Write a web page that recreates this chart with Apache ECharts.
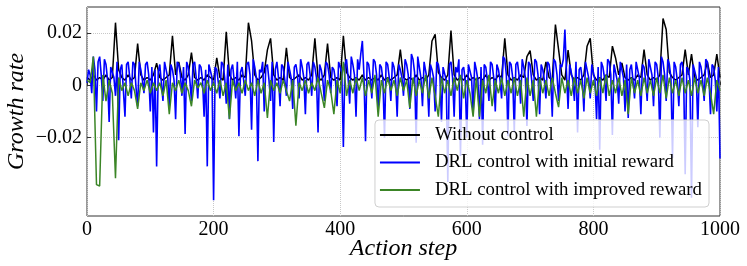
<!DOCTYPE html>
<html>
<head>
<meta charset="utf-8">
<script src="https://cdn.jsdelivr.net/npm/echarts@6/dist/echarts.min.js"></script>
<style>html,body{margin:0;padding:0;background:#fff}#c{width:747px;height:266px}</style>
</head>
<body>
<div id="c"></div>
<script>
// black & green sampled every 5 action steps, blue every 2.5 steps (0..1000)
const STEP = 5;
const STEP_BLUE = 2.5;
const seriesNames = ['Without control', 'DRL control with initial reward', 'DRL control with improved reward'];
const yTicks = [-0.02, 0, 0.02];
const xTicks = [0, 200, 400, 600, 800, 1000];

const withoutControl = [
0.003,0.002,0.004,0.002,0.003,0.002,0.004,0.002,0.003,0.024,
0.006,0.003,0.002,0.004,0.002,0.003,0.016,0.004,0.002,0.003,
0.002,0.004,0.0085,0.003,0.002,0.003,0.004,0.019,0.004,0.009,
0.003,0.002,0.004,0.0125,0.003,0.002,0.003,0.002,0.004,0.003,
0.002,0.0105,0.003,0.002,0.0205,0.004,0.002,0.003,0.002,0.004,
0.003,0.024,0.017,0.004,0.002,0.003,0.005,0.0136,0.018,0.004,
0.002,0.003,0.002,0.0144,0.003,0.002,0.003,0.004,0.002,0.003,
0.002,0.004,0.018,0.003,0.002,0.004,0.016,0.003,0.002,0.003,
0.002,0.019,0.005,0.003,0.002,0.003,0.002,0.004,0.002,0.003,
0.002,0.003,0.002,0.004,0.002,0.003,0.002,0.003,0.004,0.0137,
0.003,0.002,0.003,0.002,0.004,0.002,0.003,0.002,0.004,0.017,
0.0195,0.005,0.003,0.002,0.004,0.021,0.004,0.002,0.003,0.002,
0.004,0.002,0.003,0.002,0.003,0.002,0.004,0.002,0.003,0.002,
0.004,0.003,0.018,0.004,0.002,0.003,0.002,0.004,0.003,0.011,
0.0133,0.004,0.002,0.003,0.002,0.009,0.003,0.002,0.0233,0.0137,
0.004,0.002,0.0135,0.004,0.002,0.003,0.002,0.004,0.015,0.018,
0.004,0.002,0.003,0.002,0.004,0.003,0.015,0.0105,0.004,0.0086,
0.003,0.002,0.003,0.002,0.004,0.003,0.0137,0.004,0.002,0.003,
0.002,0.004,0.0256,0.0214,0.005,0.003,0.002,0.003,0.004,0.0137,
0.004,0.012,0.003,0.002,0.003,0.004,0.009,0.003,0.004,0.012,
0.003
];

const initialReward = [
0.001,0.006,0.004,-0.003,0.011,0.006,-0.010,0.009,0.011,0.004,
-0.006,0.010,0.008,0.002,-0.014,0.007,0.007,0.003,-0.004,0.009,
-0.021,0.006,0.008,-0.002,-0.012,0.008,0.009,0.003,-0.005,0.009,
0.008,-0.001,-0.008,0.009,0.006,0.002,-0.003,0.008,0.009,0.004,
-0.010,0.007,-0.018,0.006,-0.031,0.005,0.008,0.001,-0.006,0.009,
0.009,0.003,-0.008,0.008,0.006,0.002,-0.013,0.009,0.008,0.004,
-0.004,0.007,-0.0186,0.009,0.007,0.002,-0.006,0.008,0.009,0.003,
-0.005,0.008,0.007,0.002,-0.012,0.006,-0.031,0.008,0.008,0.003,
-0.044,0.007,0.006,0.001,-0.005,0.009,0.008,0.003,-0.007,0.008,
-0.013,0.006,0.008,0.002,-0.005,0.009,-0.0195,0.005,0.007,0.002,
-0.004,0.008,0.009,0.004,-0.017,0.010,0.007,0.003,-0.029,0.006,
0.005,0.009,-0.010,0.007,0.008,0.002,-0.006,0.009,-0.0217,0.006,
0.009,0.003,-0.008,0.008,0.007,0.002,-0.004,0.009,0.006,0.003,
-0.009,0.007,0.008,0.004,-0.005,0.010,0.007,0.003,-0.011,0.008,
0.009,0.004,-0.004,0.009,0.007,0.003,-0.018,0.008,0.006,0.002,
-0.006,0.009,0.008,0.004,-0.003,0.007,0.006,0.002,-0.008,0.009,
0.009,0.005,-0.0236,0.008,0.010,0.003,-0.007,0.011,0.008,0.004,
-0.012,0.010,0.006,0.012,0.017,0.004,-0.0214,0.009,0.008,0.003,
-0.005,0.010,0.009,0.004,-0.010,0.008,0.007,0.002,-0.020,0.009,
0.008,0.003,-0.006,0.009,0.007,0.002,-0.012,0.008,0.006,0.003,
-0.004,0.010,0.008,0.004,-0.009,0.012,0.010,0.005,-0.022,0.011,
0.007,0.003,-0.008,0.009,0.009,0.002,-0.012,0.008,0.006,0.003,
-0.010,0.009,0.008,0.004,-0.014,0.007,0.007,0.002,-0.037,0.008,
0.009,0.003,-0.012,0.007,0.005,0.010,-0.027,0.006,0.007,0.002,
-0.020,0.008,0.008,0.003,-0.011,0.009,0.006,0.002,-0.013,0.007,
-0.0227,0.008,0.007,0.002,-0.006,0.009,0.008,0.003,-0.010,0.008,
0.006,0.002,-0.005,0.011,0.010,0.004,-0.0195,0.009,0.008,0.003,
-0.018,0.008,0.009,0.004,-0.007,0.010,0.007,0.003,-0.0155,0.009,
0.008,0.002,-0.006,0.010,0.009,0.004,-0.011,0.008,0.006,0.002,
-0.005,0.009,0.008,0.003,-0.012,0.010,0.009,0.004,-0.006,0.008,
0.007,0.010,0.0214,0.005,-0.009,0.008,0.008,0.002,-0.006,0.009,
-0.018,0.006,0.007,0.002,-0.010,0.009,0.009,0.003,-0.005,0.008,
0.008,0.002,-0.013,0.007,-0.0246,0.009,0.007,0.003,-0.006,0.010,
0.009,0.004,-0.019,0.008,0.008,0.002,-0.007,0.009,0.006,0.003,
-0.010,0.008,-0.0125,0.006,0.008,0.002,-0.005,0.009,0.009,0.003,
-0.011,0.008,0.007,0.002,-0.006,0.010,0.010,0.004,-0.008,0.009,
0.008,0.003,-0.020,0.011,0.009,0.004,-0.006,0.010,0.008,0.003,
-0.0278,0.009,0.007,0.002,-0.008,0.008,0.009,0.004,-0.034,0.007,
0.006,0.002,-0.043,0.008,0.008,0.003,-0.016,0.009,0.007,0.002,
-0.006,0.010,0.009,0.003,-0.011,0.008,0.007,0.002,-0.010,0.007,
-0.028
];

const improvedReward = [
0.002,0.001,0.011,-0.038,-0.0385,0.004,-0.006,0.002,-0.003,-0.0355,
0.003,-0.002,0.001,-0.004,0.001,-0.002,-0.009,0.001,-0.002,0.002,
-0.003,0.001,-0.002,0.001,-0.004,0.002,-0.011,0.001,-0.002,0.002,
-0.003,0.001,-0.002,-0.008,0.002,-0.001,0.001,-0.003,0.002,-0.002,
0.001,-0.003,0.002,-0.004,0.001,-0.0128,0.002,-0.002,0.001,-0.003,
0.002,-0.002,0.001,-0.004,0.002,-0.003,0.001,-0.0125,0.002,-0.002,
0.001,-0.003,0.002,-0.002,-0.006,0.002,-0.0154,0.001,-0.002,0.002,
-0.003,0.001,-0.002,0.003,-0.003,-0.0086,0.002,-0.002,-0.011,0.002,
-0.003,0.009,-0.004,0.002,-0.003,0.003,-0.002,0.003,-0.004,0.002,
-0.003,0.004,-0.012,0.002,-0.003,0.003,-0.002,0.002,-0.004,0.003,
-0.002,0.002,-0.0086,0.003,-0.004,0.002,-0.003,0.004,-0.005,0.003,
-0.004,-0.012,0.003,-0.003,0.002,-0.004,0.003,-0.002,0.004,-0.005,
0.002,-0.003,-0.012,0.003,-0.012,0.002,-0.003,0.004,-0.008,0.002,
-0.003,0.003,-0.004,0.002,-0.003,0.003,-0.004,0.002,-0.012,0.003,
-0.004,0.002,-0.012,0.003,-0.003,0.002,-0.004,0.003,-0.003,-0.0083,
0.003,-0.003,0.002,-0.004,0.003,-0.003,0.002,-0.005,0.003,-0.003,
0.002,-0.004,0.003,-0.003,0.004,-0.004,0.002,-0.003,0.003,-0.004,
0.002,-0.011,0.003,-0.003,0.002,-0.004,0.003,-0.003,0.002,-0.004,
0.003,-0.003,0.004,-0.005,0.003,-0.003,0.002,-0.004,0.003,-0.003,
0.002,-0.004,0.003,-0.003,0.002,-0.004,0.003,-0.003,-0.011,0.002,
-0.002
];

function pairs(vals, step){ return vals.map((v,i)=>[i*step, v]); }

const FONT = 'Liberation Serif';
const chart = echarts.init(document.getElementById('c'), null, {renderer:'canvas'});
chart.setOption({
  animation: false,
  backgroundColor: '#fff',
  grid: {left: 87, right: 27, top: 7, bottom: 50, outerBoundsMode: 'none', containLabel: false,
         show: true, borderColor: '#333', borderWidth: 1, backgroundColor: 'transparent'},
  xAxis: {
    type: 'value', min: 0, max: 1000, interval: 200,
    name: 'Action step', nameLocation: 'middle', nameGap: 21, nameMoveOverlap: false,
    nameTextStyle: {fontFamily: FONT, fontStyle: 'italic', fontSize: 24, color: '#000'},
    axisLine: {show: false},
    axisTick: {show: true, inside: true, length: 4, lineStyle: {color: '#333'}},
    axisLabel: {fontFamily: FONT, fontSize: 20, color: '#000', margin: 4, formatter: v => String(v)},
    splitLine: {show: true, lineStyle: {color: '#c8c8c8', type: 'dotted', width: 1}}
  },
  yAxis: {
    type: 'value', min: -0.05, max: 0.03,
    name: 'Growth rate', nameLocation: 'middle', nameGap: 58, nameMoveOverlap: false,
    nameTextStyle: {fontFamily: FONT, fontStyle: 'italic', fontSize: 24, color: '#000'},
    axisLine: {show: false},
    axisTick: {show: true, inside: true, length: 4, lineStyle: {color: '#333'}, customValues: yTicks},
    axisLabel: {fontFamily: FONT, fontSize: 20, color: '#000', margin: 5, customValues: yTicks,
      formatter: v => Math.abs(v) < 1e-9 ? '0' : (v < 0 ? '\u2212' + Math.abs(v).toFixed(2) : v.toFixed(2))},
    splitLine: {show: true, lineStyle: {color: '#c8c8c8', type: 'dotted', width: 1}}
  },
  legend: {
    orient: 'vertical', right: 38, top: 120,
    icon: 'rect', itemWidth: 40, itemHeight: 2, itemGap: 7.5,
    padding: [5, 7, 7, 5],
    backgroundColor: 'rgba(255,255,255,0.8)', borderColor: '#cfcfcf', borderWidth: 1, borderRadius: 4,
    textStyle: {fontFamily: FONT, fontSize: 18.8, color: '#000', lineHeight: 20, padding: [0,0,0,10]},
    data: seriesNames
  },
  series: [
    {name: seriesNames[0], type: 'line', data: pairs(withoutControl, STEP), symbol: 'none', lineStyle: {color: '#000', width: 1.5}, itemStyle: {color: '#000'}, z: 2},
    {name: seriesNames[1], type: 'line', data: pairs(initialReward, STEP_BLUE), symbol: 'none', lineStyle: {color: '#0000ff', width: 1.6}, itemStyle: {color: '#0000ff'}, z: 3},
    {name: seriesNames[2], type: 'line', data: pairs(improvedReward, STEP), symbol: 'none', lineStyle: {color: '#3b8526', width: 1.5}, itemStyle: {color: '#3b8526'}, z: 4}
  ]
});
</script>
</body>
</html>
